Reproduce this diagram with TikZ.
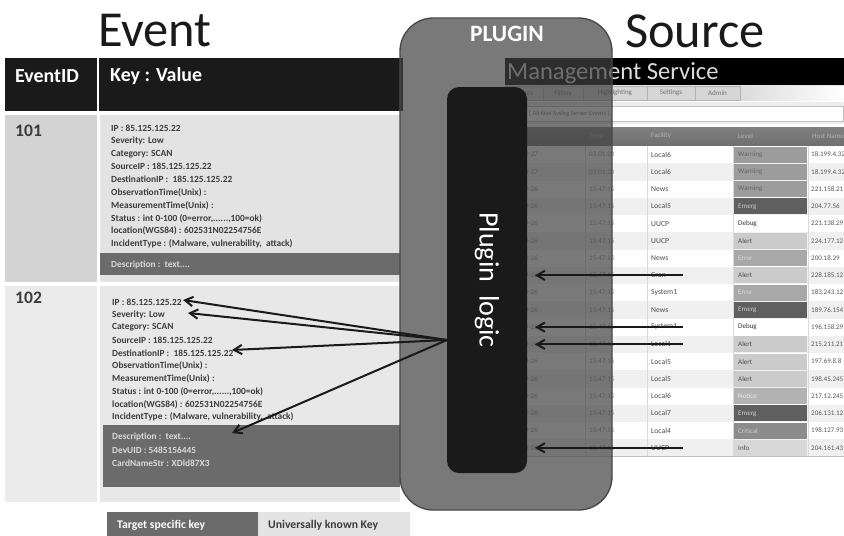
\documentclass[tikz,border=0pt]{standalone}
\usepackage{fontspec}
\setmainfont{Carlito}
\usepackage{xcolor}
\usepackage{tikz}
\usetikzlibrary{arrows.meta}
\definecolor{inkc}{HTML}{1A1A1A}
\definecolor{txtc}{HTML}{3C3C3C}
\definecolor{idcell}{HTML}{D3D3D3}
\definecolor{kvcell}{HTML}{E3E3E3}
\definecolor{idcellb}{HTML}{EBEBEB}
\definecolor{kvcellb}{HTML}{E8E8E8}
\definecolor{descc}{HTML}{6B6B6B}
\definecolor{plugc}{HTML}{414141}
\definecolor{plugline}{HTML}{484848}
\definecolor{gridc}{HTML}{DADADA}
\definecolor{rowalt}{HTML}{F0F0F0}
\definecolor{colhead}{HTML}{707070}
\definecolor{lvWarn}{HTML}{9C9C9C}
\definecolor{lvEmerg}{HTML}{5F5F5F}
\definecolor{lvDebug}{HTML}{FFFFFF}
\definecolor{lvAlert}{HTML}{CBCBCB}
\definecolor{lvError}{HTML}{A8A8A8}
\definecolor{lvNotice}{HTML}{B2B2B2}
\definecolor{lvCrit}{HTML}{8C8C8C}
\definecolor{lvInfo}{HTML}{D8D8D8}
\newcommand\sixdots{......}
\tikzset{
  ttl/.style={font=\fontsize{43}{45}\selectfont,text=inkc,inner sep=0pt},
  hd/.style={font=\bfseries\fontsize{17}{19}\selectfont,text=white,anchor=west,inner sep=0pt},
  eid/.style={font=\bfseries\fontsize{15}{17}\selectfont,text=txtc,anchor=west,inner sep=0pt},
  kv/.style={font=\bfseries\fontsize{8}{9}\selectfont,text=txtc,anchor=west,inner sep=0pt},
  kvd/.style={kv,text=white!85!black},
  lgd/.style={kv,font=\bfseries\fontsize{10}{12}\selectfont},
  sm/.style={font=\fontsize{6}{7}\selectfont,text=black!55,anchor=west,inner sep=0pt},
  arr/.style={-{Straight Barb[length=2.4mm,width=2.8mm]},line width=0.6mm,draw=inkc}
}
\begin{document}
\begin{tikzpicture}[x=0.3mm,y=-0.3mm]
\useasboundingbox (0,0) rectangle (844,535);
\clip (0,0) rectangle (844,535);
\fill[white] (0,0) rectangle (844,535);

\node[ttl] (evt) at (155,31) {Event};
\node[ttl] (src) at (695,31) {Source};

\fill[black] (505,58) rectangle (844,85);
\node[font=\fontsize{21}{23}\selectfont,text=white!86!black,anchor=base west,inner sep=0pt] (mgmt) at (507,79) {Management Service};
\fill[white!90!black] (505,85) rectangle (844,101);
\shade[left color=white!86!black,right color=white] (740,86) rectangle (844,100);
\foreach \xa/\xb/\tabname [count=\k] in {505/543/Events,543/583/Filters,583/647/Highlighting,647/695/Settings,695/740/Admin}{
  \draw[black!30,fill=white!84!black] (\xa,86) rectangle (\xb,100);
  \node[sm,anchor=center] (tab\k) at ({(\xa+\xb)/2},93) {\tabname};
}
\fill[white!93!black] (505,102) rectangle (844,124);
\draw[black!25,fill=white] (506,106) rectangle (843,121);
\node[sm,font=\fontsize{5.5}{6}\selectfont] (flt) at (529,113.5) {[ All Kiwi Syslog Server Events ]};
\shade[top color=black!50,bottom color=colhead] (505,127) rectangle (844,145);
\node[sm,text=black!30] (chd) at (510,136) {Date};
\node[sm,text=black!30] (cht) at (589,136) {Time};
\node[sm,text=black!30] (chf) at (651,136) {Facility};
\node[sm,text=black!30] (chl) at (738,136) {Level};
\node[sm,text=black!30] (chh) at (812,136) {Host Name};
\foreach \fac/\lev/\lvc/\lvt/\host [count=\i] in {
  Local6/Warning/lvWarn/black!60/18.199.4.32,
  Local6/Warning/lvWarn/black!60/18.199.4.32,
  News/Warning/lvWarn/black!60/221.158.21,
  Local5/Emerg/lvEmerg/white!80!black/204.77.56,
  UUCP/Debug/lvDebug/black!80/221.138.29,
  UUCP/Alert/lvAlert/black!70/224.177.12,
  News/Error/lvError/white!85!black/200.18.29,
  Cron/Alert/lvAlert/black!70/228.185.12,
  System1/Error/lvError/white!85!black/183.243.12,
  News/Emerg/lvEmerg/white!80!black/189.76.154,
  System1/Debug/lvDebug/black!80/196.158.29,
  Local1/Alert/lvAlert/black!70/215.211.21,
  Local5/Alert/lvAlert/black!70/197.69.8.8,
  Local5/Alert/lvAlert/black!70/198.45.245,
  Local6/Notice/lvNotice/white!92!black/217.12.245,
  Local7/Emerg/lvEmerg/white!80!black/206.131.12,
  Local4/Critical/lvCrit/white!80!black/198.127.93,
  UUCP/Info/lvInfo/black!70/204.161.43}{
  \pgfmathsetmacro\yt{146+17.25*(\i-1)}
  \pgfmathsetmacro\yc{\yt+8.6}
  \pgfmathsetmacro\yb{\yt+17.25}
  \ifodd\i\def\rc{white}\else\def\rc{rowalt}\fi
  \ifnum\i<3\def\dd{2009-09-27}\def\tm{03:01:20}\else\def\dd{2009-09-26}\def\tm{15:47:15}\fi
  \fill[\rc] (505,\yt) rectangle (844,\yb);
  \fill[\lvc] (734,\yt+0.7) rectangle (807,\yb-0.7);
  \node[sm,text=black!45] (dt\i) at (505,\yc) {\dd};
  \node[sm,text=black!45] (tm\i) at (589,\yc) {\tm};
  \node[sm,font=\fontsize{6.5}{7}\selectfont,text=black!70] (fac\i) at (651,\yc) {\fac};
  \node[sm,text=\lvt] (lev\i) at (738,\yc) {\lev};
  \node[sm,text=black!65] (hst\i) at (811,\yc) {\host};
  \coordinate (fx\i) at (683,\yc);
  \coordinate (dx\i) at (535,\yc);
}
\foreach \cx in {585,647,733,808}
  \draw[gridc] (\cx,146) -- (\cx,456.5);
\draw[black!25] (505,456.5) -- (844,456.5);

\fill[inkc] (5,58) rectangle (403,111);
\draw[white,line width=0.6mm] (98,58) -- (98,111);
\node[hd] (hid) at (15,76) {EventID};
\node[hd] (hkv) at (110,76) {Key : Value};

\fill[idcell] (5,115) rectangle (97,282);
\fill[kvcell] (100,115) rectangle (400,282);
\fill[descc] (100,253) rectangle (400,275);
\node[eid] (id101) at (15,131) {101};
\foreach \kt [count=\k] in {{IP : 85.125.125.22},{Severity: Low},{Category: SCAN},{SourceIP : 185.125.125.22},{DestinationIP :\ \ 185.125.125.22},{ObservationTime(Unix) :},{MeasurementTime(Unix) :},{Status : int 0-100 (0=error,\sixdots,100=ok)},{location(WGS84) : 602531N02254756E},{IncidentType : (Malware, vulnerability,\ \ attack)}}
  \node[kv] (a\k) at (111,{128+12.9*(\k-1)}) {\kt};
\node[kvd] (desc101) at (111,265) {Description :\ \ text....};

\fill[idcellb] (5,286) rectangle (97,502);
\fill[kvcellb] (100,286) rectangle (400,502);
\fill[descc] (103,425) rectangle (400,487);
\node[eid] (id102) at (15,298) {102};
\foreach \kt [count=\k] in {{IP : 85.125.125.22},{Severity: Low},{Category: SCAN},{SourceIP : 185.125.125.22},{DestinationIP :\ \ 185.125.125.22},{ObservationTime(Unix) :},{MeasurementTime(Unix) :},{Status : int 0-100 (0=error,\sixdots,100=ok)},{location(WGS84) : 602531N02254756E},{IncidentType : (Malware, vulnerability,\ \ attack)}}
  \node[kv] (b\k) at (112,{302+12.8*(\k-1)}) {\kt};
\node[kvd] (desc102) at (112,437) {Description :\ \ text....};
\node[kvd] (dev102) at (112,450) {DevUID : 5485156445};
\node[kvd] (card102) at (112,463) {CardNameStr : XDld87X3};

\fill[plugc,fill opacity=0.7,rounded corners=10mm] (400,18) rectangle (612,510);
\draw[plugline,line width=0.4mm,rounded corners=10mm] (400,18) rectangle (612,510);
\node[font=\bfseries\fontsize{20}{22}\selectfont,text=white] (plg) at (507,34) {PLUGIN};
\node[fill=inkc,rounded corners=3.6mm,minimum width=24mm,minimum height=115.8mm,inner sep=0pt] (logic) at (487,280) {};
\node[rotate=-90,font=\fontsize{24}{26}\selectfont,text=white] (logictxt) at (logic.center) {Plugin\ \ logic};

\coordinate (lgout) at (447,340);
\coordinate (tIP) at (183,300);
\coordinate (tSev) at (188,313);
\coordinate (tDst) at (232,350);
\coordinate (tDsc) at (232,433);
\foreach \tg in {tIP,tSev,tDst,tDsc}
  \draw[arr] (lgout) -- (\tg);
\foreach \i in {8,11,12,18}
  \draw[arr] (fx\i) -- (dx\i);

\fill[descc] (107,512) rectangle (258,540);
\fill[kvcell] (258,512) rectangle (410,540);
\node[lgd,text=white] (lg1) at (117,525) {Target specific key};
\node[lgd] (lg2) at (268,525) {Universally known Key};
\end{tikzpicture}
\end{document}
